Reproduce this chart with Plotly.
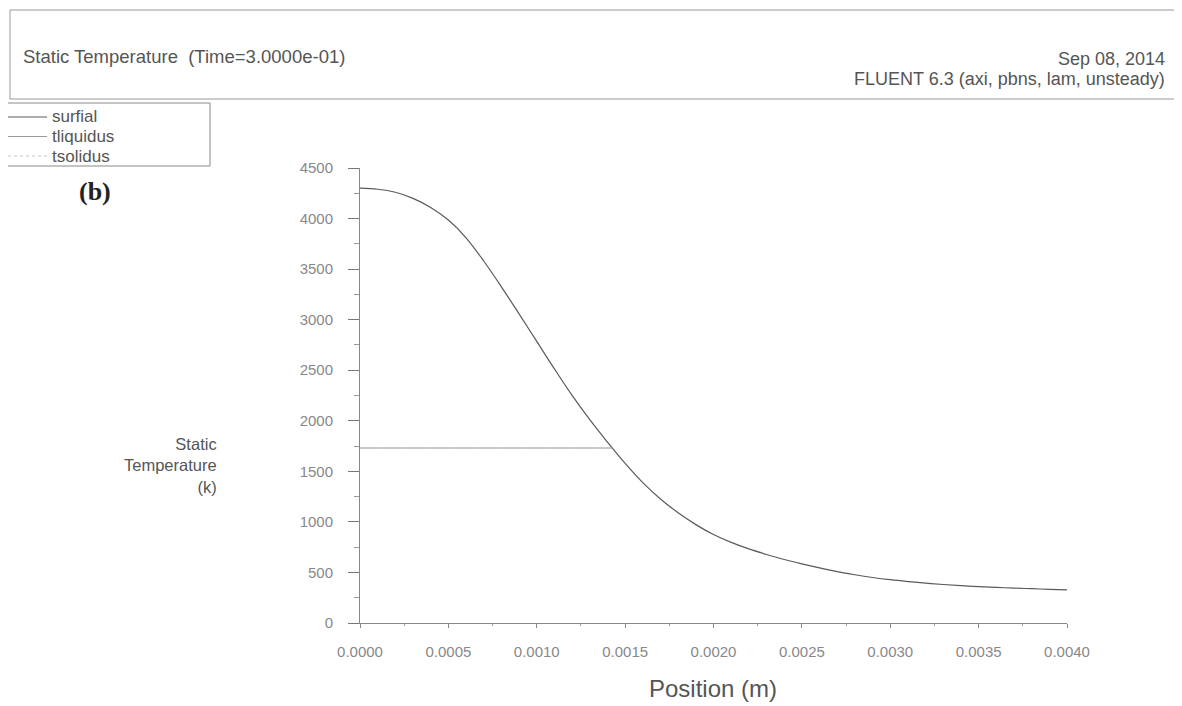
import plotly.graph_objects as go

# Data
position = [0.0, 0.0001, 0.0002, 0.0003, 0.0004, 0.0005, 0.0006, 0.0007, 0.0008, 0.0009,
            0.0010, 0.0011, 0.0012, 0.0013, 0.0014, 0.0015, 0.0016, 0.0017, 0.0018, 0.0019,
            0.0020, 0.0021, 0.0022, 0.0023, 0.0024, 0.0025, 0.0026, 0.0027, 0.0028, 0.0029,
            0.0030, 0.0031, 0.0032, 0.0033, 0.0034, 0.0035, 0.0036, 0.0037, 0.0038, 0.0039,
            0.0040]
surfial = [4300, 4290, 4260, 4200, 4110, 3985, 3810, 3580, 3325, 3057,
           2785, 2513, 2251, 2011, 1789, 1579, 1389, 1227, 1090, 973,
           875, 797, 733, 678, 628, 585, 545, 508, 477, 450,
           428, 410, 394, 381, 370, 360, 352, 345, 339, 333,
           328]

liq_position = [0.0, 0.001427]
tliquidus = [1731, 1731]
sol_position = [0.0, 0.001427]
tsolidus = [1731, 1731]

x_ticks = [0.0, 0.0005, 0.001, 0.0015, 0.002, 0.0025, 0.003, 0.0035, 0.004]
y_ticks = [0, 500, 1000, 1500, 2000, 2500, 3000, 3500, 4000, 4500]

W, H = 1182, 706
OFF = 8  # page body margin offset
L, R, T, B = 360 - OFF, W - (1067 - OFF), 168 - OFF, H - (623 - OFF)
PW, PH = W - L - R, H - T - B

colors = {"surfial": "#5a5a5a", "tliquidus": "#9a9a9a", "tsolidus": "#c4c4c4"}

fig = go.Figure()
fig.add_trace(go.Scatter(x=position, y=surfial, mode="lines", name="surfial",
                         line=dict(color=colors["surfial"], width=1.2, shape="spline", smoothing=1)))
fig.add_trace(go.Scatter(x=liq_position, y=tliquidus, mode="lines", name="tliquidus",
                         line=dict(color=colors["tliquidus"], width=1.2)))
fig.add_trace(go.Scatter(x=sol_position, y=tsolidus, mode="lines", name="tsolidus",
                         line=dict(color=colors["tsolidus"], width=1, dash="dot")))

axis_font = dict(family="Liberation Sans, Arial", size=15, color="#888")
fig.update_layout(
    width=W, height=H,
    margin=dict(l=L, r=R, t=T, b=B),
    paper_bgcolor="white", plot_bgcolor="white",
    font=dict(family="Liberation Sans, Arial", color="#555"),
    showlegend=False,
    xaxis=dict(range=[0, 0.004], tickvals=x_ticks, tickformat=".4f",
               showgrid=False, zeroline=False, showline=True, linecolor="#888", linewidth=1,
               ticks="outside", ticklen=4, tickcolor="#888", tickfont=axis_font,
               ticklabelstandoff=11,
               minor=dict(dtick=0.00025, ticks="outside", ticklen=2, tickcolor="#999")),
    yaxis=dict(range=[0, 4500], tickvals=y_ticks,
               showgrid=False, zeroline=False, showline=True, linecolor="#888", linewidth=1,
               ticks="outside", ticklen=11, tickcolor="#777", tickfont=axis_font,
               ticklabelstandoff=12,
               minor=dict(dtick=250, ticks="outside", ticklen=5, tickcolor="#999")),
)

def px_x(px):
    return (px - OFF - L) / PW

def px_y(py):
    return 1 - (py - OFF - T) / PH

# Header box
fig.add_shape(type="rect", xref="paper", yref="paper",
              x0=px_x(10), x1=px_x(1180), y0=px_y(99), y1=px_y(10),
              line=dict(color="#999", width=1), fillcolor="rgba(0,0,0,0)")

# Legend box (FLUENT style)
fig.add_shape(type="rect", xref="paper", yref="paper",
              x0=px_x(6), x1=px_x(210), y0=px_y(166), y1=px_y(103),
              line=dict(color="#888", width=1), fillcolor="white")

def ann(text, px, py, size, xanchor="left", align="left", family="Liberation Sans, Arial",
        color="#555"):
    fig.add_annotation(text=text, xref="paper", yref="paper",
                       x=px_x(px), y=px_y(py),
                       xanchor=xanchor, yanchor="middle", showarrow=False, align=align,
                       font=dict(family=family, size=size, color=color))

for i, tr in enumerate(fig.data):
    yy = 117 + 19.5 * i
    fig.add_shape(type="line", xref="paper", yref="paper",
                  x0=px_x(8), x1=px_x(47), y0=px_y(yy), y1=px_y(yy),
                  line=dict(color=tr.line.color, width=1, dash=tr.line.dash or "solid"))
    ann(tr.name, 50, yy, 17, color="#555")

ann("Static Temperature  (Time=3.0000e-01)", 21, 57, 18.5)
ann("Sep 08, 2014", 1167, 59, 18, xanchor="right", align="right")
ann("FLUENT 6.3 (axi, pbns, lam, unsteady)", 1167, 79, 18, xanchor="right", align="right")
ann("<b>(b)</b>", 77, 191, 26, family="Liberation Serif, Times New Roman", color="#222")
ann("Static<br>Temperature<br>(k)", 219, 465, 16.5, xanchor="right", align="right")
ann("Position (m)", 713, 688, 24, xanchor="center", align="center")

fig.write_html("out.html")
